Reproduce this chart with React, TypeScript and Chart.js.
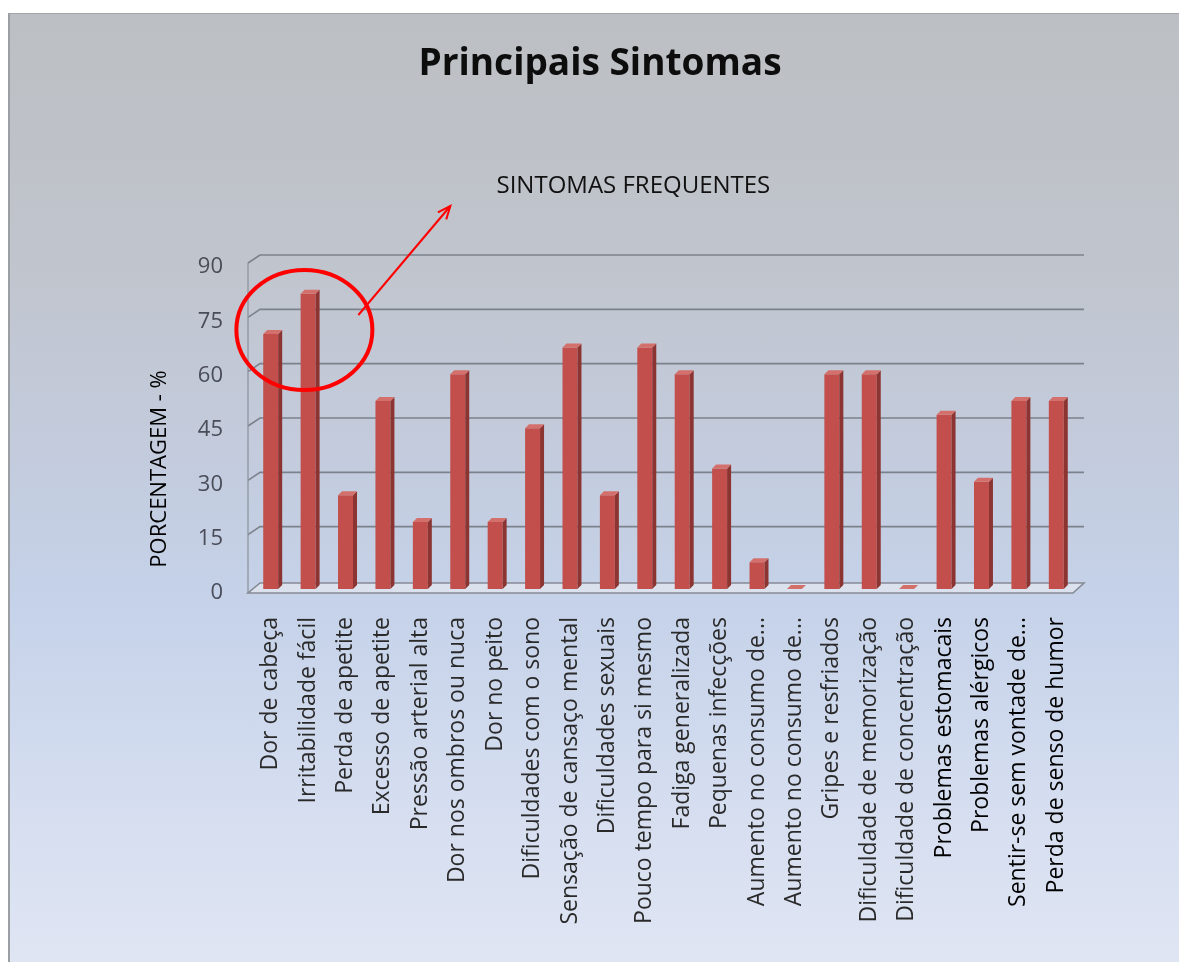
import React, { useEffect, useRef } from "react";
import { Chart, registerables } from "chart.js";

Chart.register(...registerables);

const categories = [
  "Dor de cabeça",
  "Irritabilidade fácil",
  "Perda de apetite",
  "Excesso de apetite",
  "Pressão arterial alta",
  "Dor nos ombros ou nuca",
  "Dor no peito",
  "Dificuldades com o sono",
  "Sensação de cansaço mental",
  "Dificuldades sexuais",
  "Pouco tempo para si mesmo",
  "Fadiga generalizada",
  "Pequenas infecções",
  "Aumento no consumo de...",
  "Aumento no consumo de...",
  "Gripes e resfriados",
  "Dificuldade de memorização",
  "Dificuldade de concentração",
  "Problemas estomacais",
  "Problemas alérgicos",
  "Sentir-se sem vontade de...",
  "Perda de senso de humor",
];

const percentages = [
  70.4, 81.5, 25.9, 51.9, 18.5, 59.3, 18.5, 44.4, 66.7, 25.9, 66.7, 59.3, 33.3,
  7.4, 0, 59.3, 59.3, 0, 48.1, 29.6, 51.9, 51.9,
];

const yTickValues = [0, 15, 30, 45, 60, 75, 90];

const chartTitle = "Principais Sintomas";
const yAxisTitle = "PORCENTAGEM - %";
const annotationText = "SINTOMAS FREQUENTES";

const FONT = "'Open Sans', Lato, 'DejaVu Sans', sans-serif";

const wallPlugin = {
  id: "wall3d",
  beforeDatasetsDraw(chart: any) {
    const { ctx, chartArea, scales } = chart;
    const y = scales.y;
    const left = chartArea.left - 4;
    const right = chartArea.right;
    const y0 = y.getPixelForValue(0);
    ctx.save();
    ctx.strokeStyle = "#7c828c";
    ctx.lineWidth = 1.6;
    yTickValues.forEach((v) => {
      if (v === 0) return;
      const py = y.getPixelForValue(v);
      ctx.beginPath();
      ctx.moveTo(left, py);
      ctx.lineTo(left + 12, py - 8);
      ctx.lineTo(right + 9, py - 8);
      ctx.stroke();
    });
    ctx.strokeStyle = "#8a9099";
    ctx.lineWidth = 1.2;
    ctx.beginPath();
    ctx.moveTo(left, y.getPixelForValue(90));
    ctx.lineTo(left, y0 + 4);
    ctx.stroke();
    ctx.beginPath();
    ctx.moveTo(left, y0 + 4);
    ctx.lineTo(right - 2, y0 + 4);
    ctx.lineTo(right + 9, y0 - 6);
    ctx.lineTo(left + 12, y0 - 6);
    ctx.closePath();
    ctx.fillStyle = "rgba(228,232,240,0.7)";
    ctx.fill();
    ctx.strokeStyle = "#858b95";
    ctx.lineWidth = 1.6;
    ctx.stroke();
    ctx.restore();
  },
  afterDatasetsDraw(chart: any) {
    const { ctx } = chart;
    const meta = chart.getDatasetMeta(0);
    ctx.save();
    meta.data.forEach((bar: any) => {
      const { x, y, base, width } = bar.getProps(["x", "y", "base", "width"], true);
      const hw = width / 2;
      const d = 4;
      ctx.fillStyle = "#8c3431";
      ctx.beginPath();
      ctx.moveTo(x + hw, y);
      ctx.lineTo(x + hw + d, y - d);
      ctx.lineTo(x + hw + d, base - d);
      ctx.lineTo(x + hw, base);
      ctx.closePath();
      ctx.fill();
      ctx.fillStyle = "#d3706b";
      ctx.beginPath();
      ctx.moveTo(x - hw, y);
      ctx.lineTo(x - hw + d, y - d);
      ctx.lineTo(x + hw + d, y - d);
      ctx.lineTo(x + hw, y);
      ctx.closePath();
      ctx.fill();
    });
    ctx.restore();
  },
};

const annotationPlugin = {
  id: "annotations",
  afterDraw(chart: any) {
    const { ctx, chartArea, scales } = chart;
    const xs = scales.x;
    const ys = scales.y;
    const p0 = xs.getPixelForValue(0);
    const p1 = xs.getPixelForValue(1);
    const cx = p0 + (p1 - p0) * 0.9;
    const cy = ys.getPixelForValue(71.5);
    ctx.save();
    ctx.strokeStyle = "#ff0000";
    ctx.lineWidth = 4;
    ctx.beginPath();
    ctx.ellipse(cx, cy, 68, 60, 0, 0, Math.PI * 2);
    ctx.stroke();
    const sx = cx + 54;
    const sy = cy - 15;
    const ex = cx + 146;
    const ey = cy - 124;
    ctx.lineWidth = 2;
    ctx.beginPath();
    ctx.moveTo(sx, sy);
    ctx.lineTo(ex, ey);
    ctx.stroke();
    const ang = Math.atan2(ey - sy, ex - sx);
    const hl = 14;
    ctx.beginPath();
    ctx.moveTo(ex - hl * Math.cos(ang - 0.4), ey - hl * Math.sin(ang - 0.4));
    ctx.lineTo(ex, ey);
    ctx.lineTo(ex - hl * Math.cos(ang + 0.4), ey - hl * Math.sin(ang + 0.4));
    ctx.stroke();
    ctx.fillStyle = "#111111";
    ctx.font = `24px ${FONT}`;
    ctx.textAlign = "center";
    ctx.textBaseline = "middle";
    ctx.fillText(annotationText, cx + 329, cy - 144);
    ctx.translate(chartArea.left - 92, ys.getPixelForValue(0) - 120);
    ctx.rotate(-Math.PI / 2);
    ctx.font = `22px ${FONT}`;
    ctx.fillStyle = "#000000";
    ctx.fillText(yAxisTitle, 0, 0);
    ctx.restore();
  },
};

export default function App() {
  const ref = useRef<HTMLCanvasElement>(null);
  useEffect(() => {
    if (!ref.current) return;
    const chart = new Chart(ref.current, {
      type: "bar",
      data: {
        labels: categories,
        datasets: [
          {
            data: percentages,
            backgroundColor: "#c24f4b",
            borderWidth: 0,
            barPercentage: 0.4,
            categoryPercentage: 1.0,
          },
        ],
      },
      options: {
        responsive: false,
        animation: false,
        layout: { padding: { left: 11, right: 0, top: 0, bottom: 0 } },
        plugins: {
          legend: { display: false },
          tooltip: { enabled: false },
          title: {
            display: true,
            text: chartTitle,
            color: "#0d0d0d",
            font: { family: FONT, size: 37, weight: "bold" },
            padding: { top: 28, bottom: 176.6 },
          },
        },
        scales: {
          x: {
            grid: { display: false, drawTicks: false },
            border: { display: false },
            ticks: {
              autoSkip: false,
              minRotation: 90,
              maxRotation: 90,
              padding: 28,
              color: (c: any) => (c.index >= 18 ? "#000000" : "#2a2a2a"),
              font: { family: FONT, size: 23 },
            },
            afterFit: (s: any) => {
              s.height = 373;
            },
          },
          y: {
            min: 0,
            max: 90,
            grid: { display: false, drawTicks: false },
            border: { display: false },
            afterBuildTicks: (s: any) => {
              s.ticks = yTickValues.map((v) => ({ value: v }));
            },
            ticks: {
              padding: 29,
              labelOffset: 4,
              color: "#4a4c58",
              font: { family: FONT, size: 22 },
            },
            afterFit: (s: any) => {
              s.width = 231;
            },
          },
          y2: {
            position: "right",
            min: 0,
            max: 90,
            grid: { display: false, drawTicks: false },
            border: { display: false },
            ticks: { display: false },
            afterFit: (s: any) => {
              s.width = 104;
            },
          },
        },
      },
      plugins: [wallPlugin, annotationPlugin],
    });
    return () => chart.destroy();
  }, []);

  return (
    <div
      style={{
        position: "absolute",
        left: 8,
        top: 13,
        width: 1169,
        height: 948,
        borderLeft: "2px solid #9b9ea3",
        borderTop: "1px solid #a3a5a9",
        background:
          "linear-gradient(to bottom, #bcbfc3 0%, #c0c4cc 25%, #c3cbdc 45%, #c5d2e9 62%, #d3dcef 80%, #dfe5f3 100%)",
      }}
    >
      <canvas ref={ref} width={1169} height={948} style={{ display: "block" }} />
    </div>
  );
}
